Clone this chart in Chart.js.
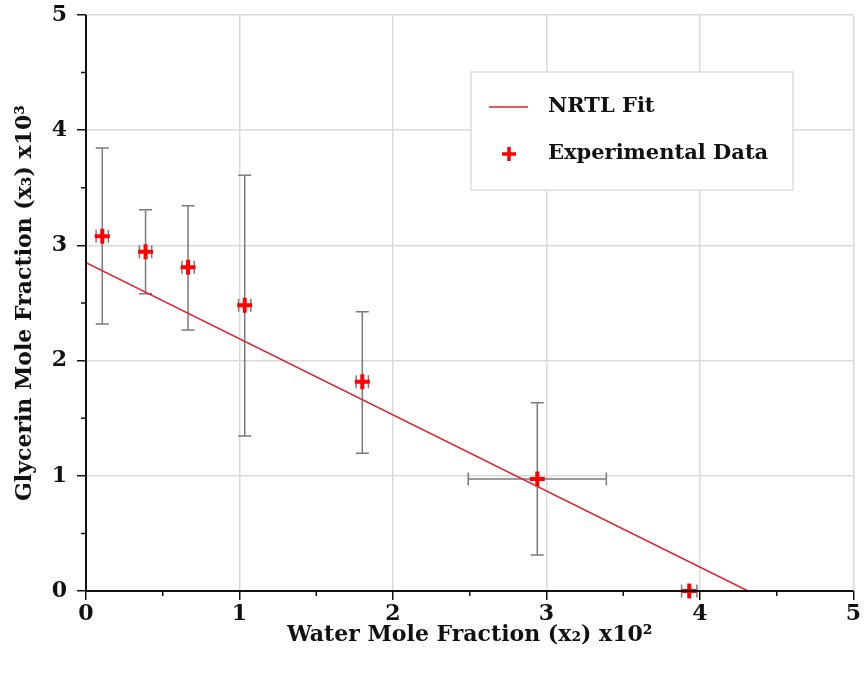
<!DOCTYPE html>
<html>
<head>
<meta charset="utf-8">
<script src="https://cdn.jsdelivr.net/npm/chart.js@4/dist/chart.umd.min.js"></script>
<style>
  html, body { margin: 0; padding: 0; background: #fff; }
  #wrap { width: 865px; height: 678px; }
</style>
</head>
<body>
<div id="wrap"><canvas id="nrtlChart" width="865" height="678"></canvas></div>
<script>
// experimental points (x2 * 10^2, x3 * 10^3)
const waterX = [0.106, 0.388, 0.665, 1.034, 1.80, 2.94, 3.93];
const glycerinY = [3.08, 2.945, 2.81, 2.48, 1.817, 0.972, 0.0];
const yErrLow = [2.318, 2.58, 2.266, 1.345, 1.195, 0.3125, 0.0];
const yErrHigh = [3.845, 3.31, 3.345, 3.61, 2.425, 1.635, 0.0];
const xErr = [0.04, 0.04, 0.04, 0.04, 0.04, 0.45, 0.05];

// NRTL fit line
const fitX = [0, 4.313];
const fitY = [2.85, 0];

const axisTicks = [0, 1, 2, 3, 4, 5];

const serif = "'DejaVu Serif', 'Liberation Serif', serif";

const errorBars = {
  id: "errorBars",
  beforeDatasetsDraw(chart) {
    const { ctx, scales } = chart;
    const xs = scales.x, ys = scales.y;
    const cap = 6.5;
    ctx.save();
    ctx.strokeStyle = "#7a7a7a";
    ctx.lineWidth = 1.5;
    waterX.forEach((x, i) => {
      const px = xs.getPixelForValue(x);
      const py = ys.getPixelForValue(glycerinY[i]);
      const top = ys.getPixelForValue(yErrHigh[i]);
      const bot = ys.getPixelForValue(yErrLow[i]);
      ctx.beginPath();
      if (top !== bot) {
        ctx.moveTo(px, top); ctx.lineTo(px, bot);
        ctx.moveTo(px - cap, top); ctx.lineTo(px + cap, top);
        ctx.moveTo(px - cap, bot); ctx.lineTo(px + cap, bot);
      }
      const l = xs.getPixelForValue(x - xErr[i]);
      const r = xs.getPixelForValue(x + xErr[i]);
      ctx.moveTo(l, py); ctx.lineTo(r, py);
      ctx.moveTo(l, py - cap); ctx.lineTo(l, py + cap);
      ctx.moveTo(r, py - cap); ctx.lineTo(r, py + cap);
      ctx.stroke();
    });
    ctx.restore();
  }
};

const boxLegend = {
  id: "boxLegend",
  afterDatasetsDraw(chart) {
    const { ctx } = chart;
    const ds = chart.data.datasets;
    ctx.save();
    ctx.fillStyle = "#fff";
    ctx.fillRect(471, 72, 322, 118);
    ctx.strokeStyle = "#dcdcdc";
    ctx.lineWidth = 1.5;
    ctx.strokeRect(471, 72, 322, 118);
    ctx.font = "bold 21px " + serif;
    ctx.textBaseline = "middle";
    ctx.fillStyle = "#111";
    // line sample
    ctx.strokeStyle = ds[0].borderColor;
    ctx.lineWidth = 1.5;
    ctx.beginPath(); ctx.moveTo(489, 107); ctx.lineTo(528, 107); ctx.stroke();
    ctx.fillText(ds[0].label, 548, 107);
    // marker sample
    ctx.strokeStyle = ds[1].borderColor;
    ctx.lineWidth = 3.5;
    ctx.beginPath();
    ctx.moveTo(502, 154); ctx.lineTo(516, 154);
    ctx.moveTo(509, 147); ctx.lineTo(509, 161);
    ctx.stroke();
    ctx.fillText(ds[1].label, 548, 154);
    ctx.restore();
  }
};

const frame = {
  id: "frame",
  afterDraw(chart) {
    const { ctx, chartArea: a, scales } = chart;
    ctx.save();
    ctx.strokeStyle = "#111";
    ctx.lineWidth = 1.5;
    ctx.beginPath();
    // minor ticks
    for (let v = 0.5; v < 5; v += 1) {
      const px = scales.x.getPixelForValue(v);
      ctx.moveTo(px, a.bottom); ctx.lineTo(px, a.bottom + 5);
      const py = scales.y.getPixelForValue(v);
      ctx.moveTo(a.left, py); ctx.lineTo(a.left - 5, py);
    }
    ctx.stroke();
    ctx.lineWidth = 2;
    ctx.beginPath();
    ctx.moveTo(a.left, a.top); ctx.lineTo(a.left, a.bottom); ctx.lineTo(a.right, a.bottom);
    ctx.stroke();
    ctx.restore();
  }
};

new Chart(document.getElementById("nrtlChart"), {
  type: "scatter",
  data: {
    datasets: [
      {
        label: "NRTL Fit",
        data: fitX.map((x, i) => ({ x: x, y: fitY[i] })),
        showLine: true,
        borderColor: "#e0202c",
        borderWidth: 1.5,
        pointRadius: 0,
        fill: false
      },
      {
        label: "Experimental Data",
        data: waterX.map((x, i) => ({ x: x, y: glycerinY[i] })),
        pointStyle: "cross",
        pointRadius: 7.5,
        borderColor: "#ff0000",
        backgroundColor: "#ff0000",
        borderWidth: 4,
        clip: false
      }
    ]
  },
  options: {
    responsive: false,
    animation: false,
    layout: { padding: { top: 15, right: 10, left: 12, bottom: 30 } },
    plugins: { legend: { display: false }, tooltip: { enabled: false } },
    scales: {
      x: {
        type: "linear", min: 0, max: 5,
        afterBuildTicks: s => { s.ticks = axisTicks.map(v => ({ value: v })); },
        afterFit: s => { s.height = 57; s.paddingRight = 0; s.paddingLeft = 0; },
        grid: { color: "#dadada", lineWidth: 1.5, tickColor: "#111", tickLength: 9, drawTicks: true },
        border: { display: false },
        ticks: { color: "#111", font: { family: serif, size: 22, weight: "bold" }, padding: 1, maxRotation: 0 },
        title: { display: true, text: "Water Mole Fraction (x\u2082) x10\u00b2", color: "#111",
                 font: { family: serif, size: 22, weight: "bold" }, padding: { top: 0, bottom: 0 } }
      },
      y: {
        type: "linear", min: 0, max: 5,
        afterBuildTicks: s => { s.ticks = axisTicks.map(v => ({ value: v })); },
        afterFit: s => { s.width = 74; s.paddingTop = 0; s.paddingBottom = 0; },
        grid: { color: "#dadada", lineWidth: 1.5, tickColor: "#111", tickLength: 9 },
        border: { display: false },
        ticks: { color: "#111", font: { family: serif, size: 22, weight: "bold" }, padding: 10 },
        title: { display: true, text: "Glycerin Mole Fraction (x\u2083) x10\u00b3", color: "#111",
                 font: { family: serif, size: 22, weight: "bold" }, padding: { top: 0, bottom: 0 } }
      }
    }
  },
  plugins: [errorBars, boxLegend, frame]
});
</script>
</body>
</html>
